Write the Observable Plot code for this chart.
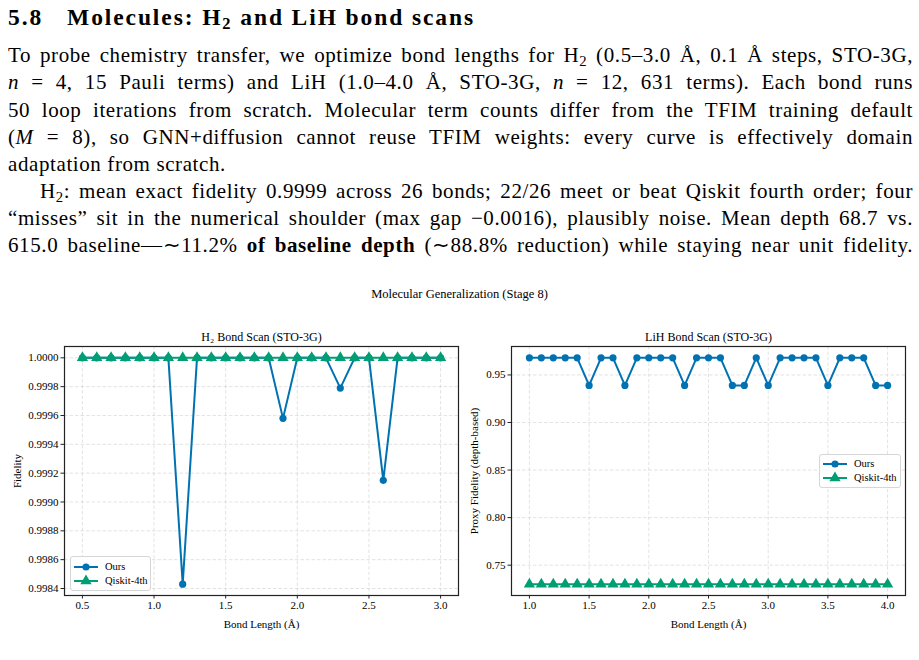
<!DOCTYPE html>
<html><head><meta charset="utf-8">
<script src="https://cdn.jsdelivr.net/npm/d3@7"></script>
<script src="https://cdn.jsdelivr.net/npm/@observablehq/plot@0.6"></script>
<style>
body{margin:0;background:#fff;}
#page{position:relative;width:919px;height:660px;overflow:hidden;font-family:"Liberation Serif",serif;color:#000;}
.hd{position:absolute;left:8px;top:3px;font-size:23.5px;font-weight:bold;white-space:nowrap;line-height:28px;letter-spacing:1.9px}
.ln{position:absolute;left:8px;width:905px;font-size:21px;letter-spacing:0.6px;line-height:27px;height:27px;text-align:justify;text-align-last:justify;}
.ln.last{text-align-last:left}
.sub{font-size:0.7em;position:relative;top:0.25em;line-height:0}
.sup{position:absolute;left:0;width:919px;text-align:center;top:287px;font-size:12.5px}
.pan{position:absolute;top:325px}
.leg{position:absolute;border:1px solid #d6d6d6;border-radius:3px;background:rgba(255,255,255,0.85);font-size:10.5px;box-sizing:border-box}
.row{position:absolute;left:0;height:14px;line-height:14px;white-space:nowrap}
.row svg{position:absolute;left:2px;top:0}
.row span{position:absolute}
</style></head>
<body><div id="page">
<div class="hd">5.8<span style="margin-left:24px">Molecules: H<span class="sub">2</span> and LiH bond scans</span></div>
<div class="ln" style="top:42px">To probe chemistry transfer, we optimize bond lengths for H<span class="sub">2</span> (0.5–3.0 Å, 0.1 Å steps, STO-3G,</div>
<div class="ln" style="top:69px"><i>n</i> = 4, 15 Pauli terms) and LiH (1.0–4.0 Å, STO-3G, <i>n</i> = 12, 631 terms). Each bond runs</div>
<div class="ln" style="top:97px">50 loop iterations from scratch. Molecular term counts differ from the TFIM training default</div>
<div class="ln" style="top:124px">(<i>M</i> = 8), so GNN+diffusion cannot reuse TFIM weights: every curve is effectively domain</div>
<div class="ln last" style="top:151px">adaptation from scratch.</div>
<div class="ln" style="top:178px;left:40px;width:873px">H<span class="sub">2</span>: mean exact fidelity 0.9999 across 26 bonds; 22/26 meet or beat Qiskit fourth order; four</div>
<div class="ln" style="top:205px">“misses” sit in the numerical shoulder (max gap −0.0016), plausibly noise. Mean depth 68.7 vs.</div>
<div class="ln" style="top:232px">615.0 baseline—∼11.2% <b>of baseline depth</b> (∼88.8% reduction) while staying near unit fidelity.</div>
<div class="sup">Molecular Generalization (Stage 8)</div>
<div class="pan" id="h2" style="left:0"></div>
<div class="pan" id="lih" style="left:460px"></div>
</div>
<script>
const BLUE = "#0072B2", GREEN = "#009E73";
const seriesNames = ["Ours", "Qiskit-4th"];

const h2Bond = [0.5,0.6,0.7,0.8,0.9,1.0,1.1,1.2,1.3,1.4,1.5,1.6,1.7,1.8,1.9,2.0,2.1,2.2,2.3,2.4,2.5,2.6,2.7,2.8,2.9,3.0];
const h2Ours = [1.0,1.0,1.0,1.0,1.0,1.0,1.0,0.99843,1.0,1.0,1.0,1.0,1.0,1.0,0.99958,1.0,1.0,1.0,0.99979,1.0,1.0,0.99915,1.0,1.0,1.0,1.0];
const h2Qiskit = [1.0,1.0,1.0,1.0,1.0,1.0,1.0,1.0,1.0,1.0,1.0,1.0,1.0,1.0,1.0,1.0,1.0,1.0,1.0,1.0,1.0,1.0,1.0,1.0,1.0,1.0];
const h2XTicks = [0.5,1.0,1.5,2.0,2.5,3.0];
const h2YTicks = [0.9984,0.9986,0.9988,0.9990,0.9992,0.9994,0.9996,0.9998,1.0000];

const lihBond = [1.0,1.1,1.2,1.3,1.4,1.5,1.6,1.7,1.8,1.9,2.0,2.1,2.2,2.3,2.4,2.5,2.6,2.7,2.8,2.9,3.0,3.1,3.2,3.3,3.4,3.5,3.6,3.7,3.8,3.9,4.0];
const lihOurs = [0.968,0.968,0.968,0.968,0.968,0.939,0.968,0.968,0.939,0.968,0.968,0.968,0.968,0.939,0.968,0.968,0.968,0.939,0.939,0.968,0.939,0.968,0.968,0.968,0.968,0.939,0.968,0.968,0.968,0.939,0.939];
const lihQiskit = [0.730,0.730,0.730,0.730,0.730,0.730,0.730,0.730,0.730,0.730,0.730,0.730,0.730,0.730,0.730,0.730,0.730,0.730,0.730,0.730,0.730,0.730,0.730,0.730,0.730,0.730,0.730,0.730,0.730,0.730,0.730];
const lihXTicks = [1.0,1.5,2.0,2.5,3.0,3.5,4.0];
const lihYTicks = [0.75,0.80,0.85,0.90,0.95];

function pad(ext){const d=(ext[1]-ext[0])*0.05;return [ext[0]-d, ext[1]+d];}

function panel(o){
  const a = o.bond.map((x,i)=>({x, y:o.ours[i]}));
  const b = o.bond.map((x,i)=>({x, y:o.qiskit[i]}));
  const grid = {stroke:"#b8b8b8", strokeOpacity:0.5, strokeDasharray:"3.5,2", strokeWidth:0.8};
  return Plot.plot({
    width:o.width, height:310, marginLeft:o.ml, marginRight:o.mr, marginTop:21, marginBottom:40,
    style:{fontFamily:"Liberation Serif, serif", fontSize:"11px", color:"#000", background:"transparent", overflow:"visible"},
    x:{domain:pad(d3.extent(o.bond))},
    y:{domain:pad(d3.extent([...o.ours,...o.qiskit]))},
    marks:[
      Plot.gridX(o.xTicks, grid),
      Plot.gridY(o.yTicks, grid),
      Plot.axisX(o.xTicks, {tickFormat:d3.format(".1f"), tickSize:3.5, tickPadding:2.5, stroke:"#222", fontSize:11,
        label:"Bond Length (Å)", labelAnchor:"center", labelArrow:"none", labelOffset:32}),
      Plot.axisY(o.yTicks, {tickFormat:d3.format(o.yFmt), tickSize:3.5, tickPadding:2.5, stroke:"#222", fontSize:11,
        label:o.yLabel, labelAnchor:"center", labelArrow:"none", labelOffset:o.lo}),
      Plot.line(a, {x:"x", y:"y", stroke:BLUE, strokeWidth:2}),
      Plot.dot(a, {x:"x", y:"y", fill:BLUE, r:3.6}),
      Plot.line(b, {x:"x", y:"y", stroke:GREEN, strokeWidth:2}),
      Plot.dot(b, {x:"x", y:"y", fill:GREEN, symbol:"triangle", r:4.2}),
      Plot.frame({stroke:"#222", strokeWidth:1.2}),
      Plot.text([o.title], {frameAnchor:"top", lineAnchor:"middle", dy:-9, fontSize:12, text:d=>d})
    ]
  });
}

function legend(parent, left, top, w, h, rowTops, lineX0, lineX1, markX, textX){
  const L = document.createElement("div");
  L.className = "leg";
  Object.assign(L.style, {left:left+"px", top:top+"px", width:w+"px", height:h+"px"});
  seriesNames.forEach((name,i)=>{
    const col = i===0?BLUE:GREEN;
    const r = document.createElement("div");
    r.className="row"; r.style.top = rowTops[i]+"px"; r.style.width = w+"px";
    const mk = i===0 ? `<circle cx="${markX}" cy="7" r="3.6" fill="${col}"/>`
                     : `<path d="${d3.symbol(d3.symbolTriangle, Math.PI*4.2*4.2)()}" transform="translate(${markX},7)" fill="${col}"/>`;
    r.innerHTML = `<svg width="${lineX1+4}" height="14" style="left:0"><line x1="${lineX0}" x2="${lineX1}" y1="7" y2="7" stroke="${col}" stroke-width="2"/>${mk}</svg><span style="left:${textX}px">${name}</span>`;
    L.appendChild(r);
  });
  parent.appendChild(L);
}

const page = document.getElementById("page");
document.getElementById("h2").appendChild(panel({bond:h2Bond, ours:h2Ours, qiskit:h2Qiskit, xTicks:h2XTicks, yTicks:h2YTicks,
  yFmt:".4f", yLabel:"Fidelity", width:460, ml:64, mr:2, lo:51, title:"H₂ Bond Scan (STO-3G)"}));
document.getElementById("lih").appendChild(panel({bond:lihBond, ours:lihOurs, qiskit:lihQiskit, xTicks:lihXTicks, yTicks:lihYTicks,
  yFmt:".2f", yLabel:"Proxy Fidelity (depth-based)", width:459, ml:51, mr:14, lo:41, title:"LiH Bond Scan (STO-3G)"}));

legend(page, 70, 556, 81, 35, [2.5, 17], 3, 27, 15, 34);
legend(page, 819, 454, 82, 34, [1.5, 16], 3, 27, 15, 34);
</script>
</body></html>
